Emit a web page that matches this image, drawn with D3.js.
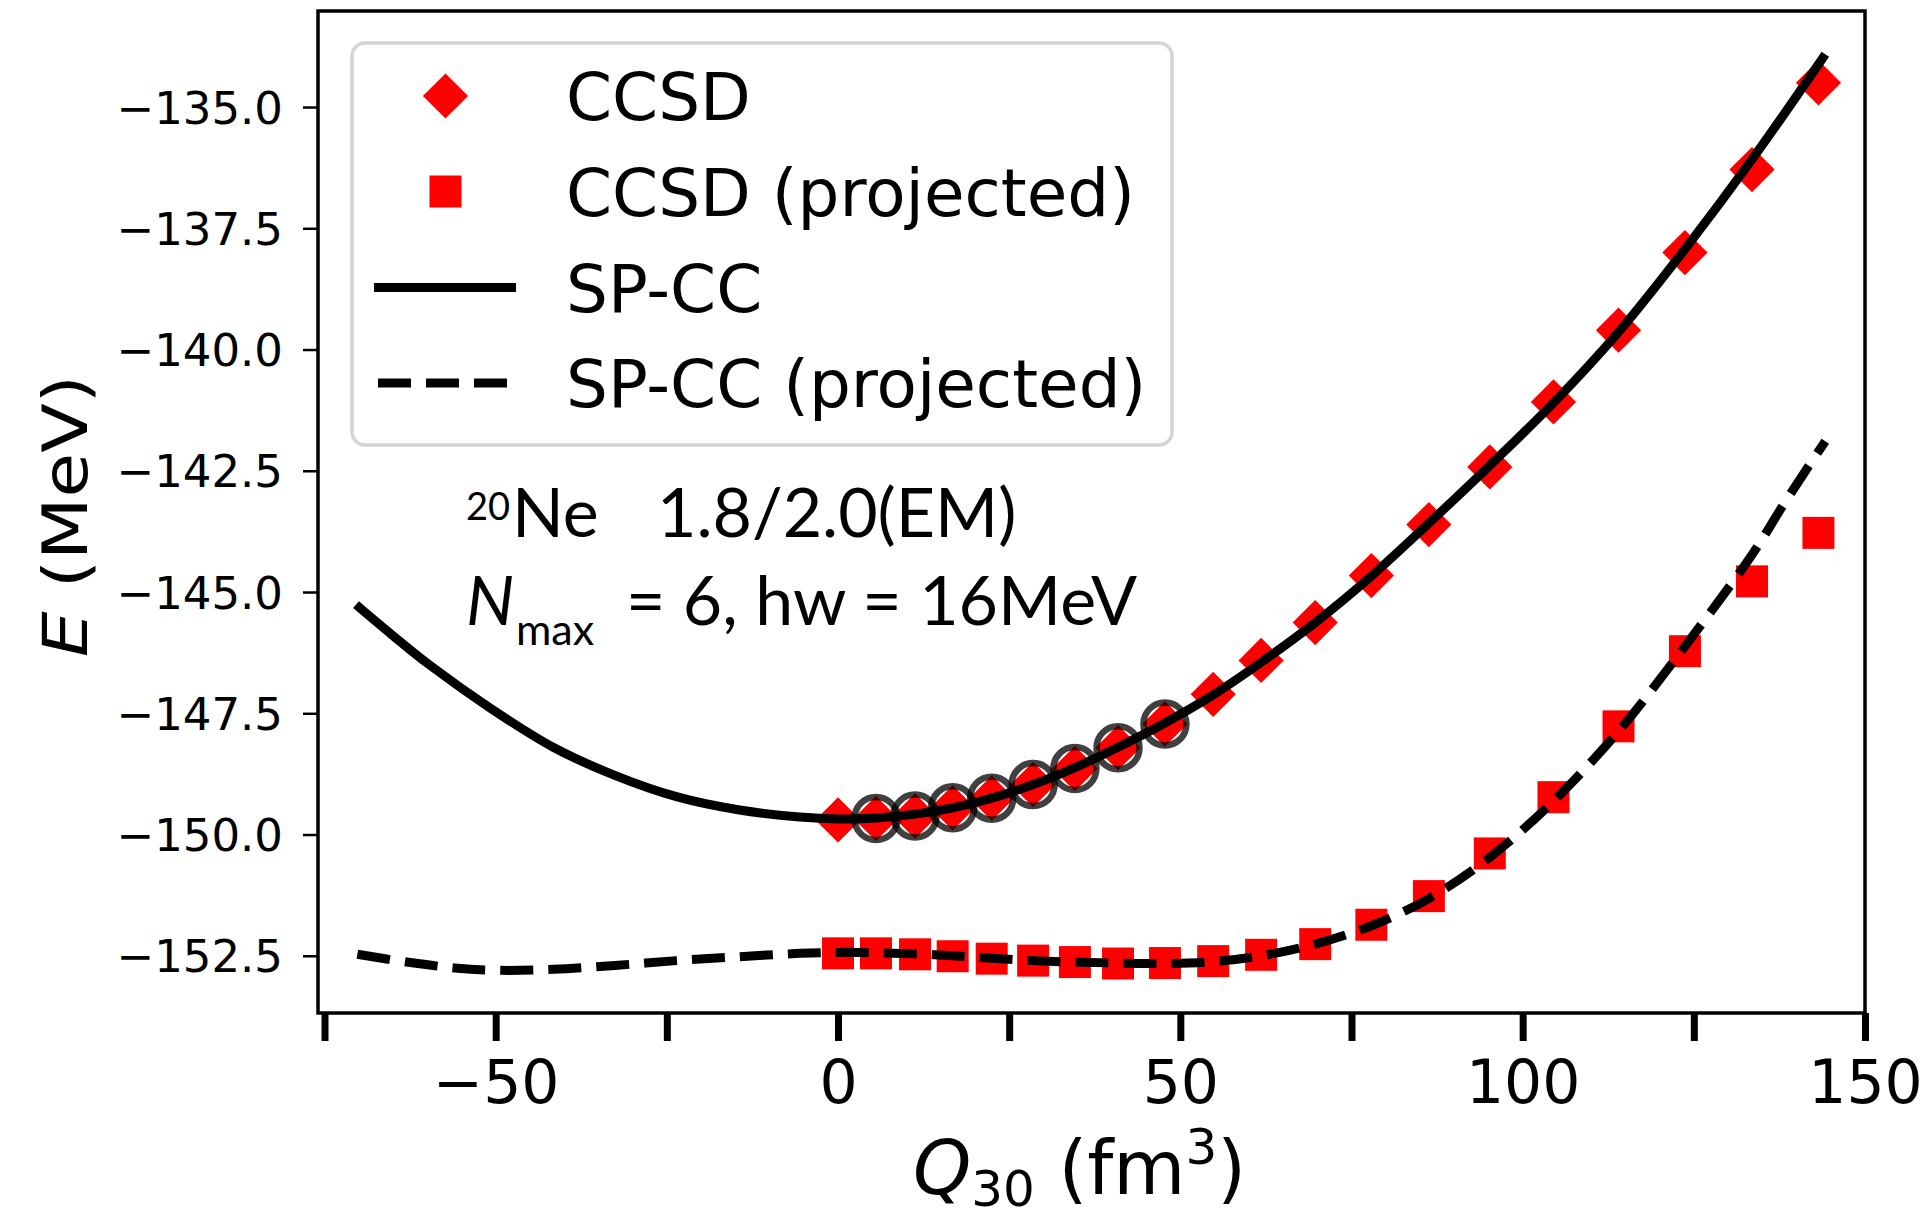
<!DOCTYPE html>
<html>
<head>
<meta charset="utf-8">
<script src="https://cdn.jsdelivr.net/npm/d3@7"></script>
<style>
  html, body { margin: 0; padding: 0; background: #fff; }
  svg { display: block; }
</style>
</head>
<body>
<svg id="chart" width="1929" height="1217"></svg>
<script>
// Deformation coordinate Q30 (fm^3) of the computed states
const q30 = [0, 5.55, 11.25, 16.75, 22.45, 28.5, 34.6, 40.9, 47.75, 54.8,
             61.8, 69.7, 77.9, 86.3, 95.2, 104.5, 114.0, 123.7, 133.5, 143.2];
// CCSD energies (MeV)
const ccsdE = [-149.70, -149.67, -149.62, -149.45, -149.25, -148.97, -148.64, -148.21, -147.72, -147.11,
               -146.41, -145.63, -144.66, -143.61, -142.42, -141.08, -139.60, -138.00, -136.29, -134.50];
// Projected CCSD energies (MeV)
const ccsdProjE = [-152.45, -152.45, -152.47, -152.51, -152.56, -152.60, -152.63, -152.66, -152.65, -152.61,
                   -152.48, -152.26, -151.86, -151.27, -150.39, -149.23, -147.77, -146.22, -144.78, -143.78];
// States used as training points for the emulator (circled)
const trainingIdx = [1, 2, 3, 4, 5, 6, 7, 8];

// SP-CC curve
const spccQ = [-70.4, -65, -59.6, -50.5, -41.6, -32.6, -23.6, -14.6, -5.6, 0, 5.55, 11.25, 16.75, 22.45,
               28.5, 34.6, 40.9, 47.75, 54.8, 61.8, 69.7, 77.9, 86.3, 95.2, 104.5, 114.0, 123.7, 133.5, 143.2, 144.2];
const spccE = [-145.26, -145.9, -146.51, -147.42, -148.2, -148.78, -149.22, -149.49, -149.64, -149.68,
               -149.66, -149.58, -149.45, -149.25, -148.97, -148.62, -148.2, -147.7, -147.12, -146.45,
               -145.63, -144.67, -143.58, -142.39, -141.1, -139.64, -137.93, -136.08, -134.12, -133.91];
// Projected SP-CC curve
const spccProjQ = [-70.2, -63, -56, -49.7, -41.6, -32.6, -23.6, -14.6, -5.6, 0, 5.55, 11.25, 16.75, 22.45,
                   28.5, 34.6, 40.9, 47.75, 54.8, 61.8, 69.7, 77.9, 86.3, 95.2, 104.5, 114.0, 123.7, 133.5, 138.4, 144.2];
const spccProjE = [-152.47, -152.63, -152.75, -152.8, -152.78, -152.7, -152.6, -152.52, -152.45, -152.43,
                   -152.44, -152.46, -152.5, -152.55, -152.6, -152.63, -152.65, -152.66, -152.62, -152.5,
                   -152.26, -151.88, -151.32, -150.47, -149.31, -147.87, -146.12, -144.23, -143.13, -141.89];

const xTicks = [-75, -50, -25, 0, 25, 50, 75, 100, 125, 150];
const xLabeled = [-50, 0, 50, 100, 150];
const yTicks = [-152.5, -150.0, -147.5, -145.0, -142.5, -140.0, -137.5, -135.0];

const legendItems = ["CCSD", "CCSD (projected)", "SP-CC", "SP-CC (projected)"];

const RED = "#ff0000";
const SANS = "'DejaVu Sans', sans-serif";
const NOTE = "Lato, 'Open Sans', sans-serif";

const plot = { left: 318, right: 1865, top: 11, bottom: 1013 };

const svg = d3.select("#chart");

const x = d3.scaleLinear().domain([-75.95, 150]).range([plot.left, plot.right]);
const y = d3.scaleLinear().domain([-153.68, -133.02]).range([plot.bottom, plot.top]);

// ---- axes ----
const fmt = d3.format(".1f");
const xAxis = d3.axisBottom(x)
  .tickValues(xTicks)
  .tickSizeInner(28).tickSizeOuter(0)
  .tickFormat(d => xLabeled.includes(d) ? d3.format("d")(d) : "");
const gx = svg.append("g").attr("transform", `translate(0,${plot.bottom})`).call(xAxis);
gx.select(".domain").remove();
gx.selectAll(".tick line").attr("stroke", "#000").attr("stroke-width", 7);
gx.selectAll(".tick text")
  .attr("y", 90).attr("dy", null)
  .attr("fill", "#000")
  .style("font-family", SANS).style("font-size", "60px");

const yAxis = d3.axisLeft(y)
  .tickValues(yTicks)
  .tickSizeInner(15).tickSizeOuter(0)
  .tickFormat(d => fmt(d));
const gy = svg.append("g").attr("transform", `translate(${plot.left},0)`).call(yAxis);
gy.select(".domain").remove();
gy.selectAll(".tick line").attr("stroke", "#000").attr("stroke-width", 2.5);
gy.selectAll(".tick text")
  .attr("x", -35).attr("dy", "0.36em")
  .attr("fill", "#000")
  .style("font-family", SANS).style("font-size", "45px");

// frame
svg.append("rect")
  .attr("x", plot.left).attr("y", plot.top)
  .attr("width", plot.right - plot.left).attr("height", plot.bottom - plot.top)
  .attr("fill", "none").attr("stroke", "#000").attr("stroke-width", 3.5);

// ---- markers ----
const pts = q30.map((q, i) => ({ q, e: ccsdE[i], p: ccsdProjE[i] }));
const SQ = 32, DH = 22.6;
const diamondPath = `M0,${-DH}L${DH},0L0,${DH}L${-DH},0Z`;

const gm = svg.append("g");
gm.selectAll("rect.sq").data(pts).join("rect").attr("class", "sq")
  .attr("x", d => x(d.q) - SQ / 2).attr("y", d => y(d.p) - SQ / 2)
  .attr("width", SQ).attr("height", SQ).attr("fill", RED);
gm.selectAll("path.dm").data(pts).join("path").attr("class", "dm")
  .attr("d", diamondPath)
  .attr("transform", d => `translate(${x(d.q)},${y(d.e)})`)
  .attr("fill", RED);

// ---- curves ----
const line = d3.line().x(d => x(d[0])).y(d => y(d[1])).curve(d3.curveCatmullRom.alpha(0.5));
const spcc = spccQ.map((q, i) => [q, spccE[i]]);
const spccProj = spccProjQ.map((q, i) => [q, spccProjE[i]]);

svg.append("path").datum(spccProj).attr("d", line)
  .attr("fill", "none").attr("stroke", "#000").attr("stroke-width", 9)
  .attr("stroke-dasharray", "33,15");
svg.append("path").datum(spcc).attr("d", line)
  .attr("fill", "none").attr("stroke", "#000").attr("stroke-width", 9);

// training points
svg.append("g").selectAll("circle").data(trainingIdx.map(i => pts[i])).join("circle")
  .attr("cx", d => x(d.q)).attr("cy", d => y(d.e)).attr("r", 21.5)
  .attr("fill", "none").attr("stroke", "#000").attr("stroke-opacity", 0.75).attr("stroke-width", 6.5);

// ---- legend ----
const lg = svg.append("g");
lg.append("rect").attr("x", 352).attr("y", 43).attr("width", 820).attr("height", 402)
  .attr("rx", 13).attr("fill", "#fff").attr("stroke", "#d4d4d4").attr("stroke-width", 3.5);
const rowY = [96, 191.5, 287.5, 383];
const hx = 445.5;
lg.append("path").attr("d", diamondPath).attr("transform", `translate(${hx},${rowY[0]})`).attr("fill", RED);
lg.append("rect").attr("x", hx - SQ / 2).attr("y", rowY[1] - SQ / 2).attr("width", SQ).attr("height", SQ).attr("fill", RED);
lg.append("line").attr("x1", 374).attr("x2", 516).attr("y1", rowY[2]).attr("y2", rowY[2])
  .attr("stroke", "#000").attr("stroke-width", 9);
lg.append("line").attr("x1", 378).attr("x2", 512).attr("y1", rowY[3]).attr("y2", rowY[3])
  .attr("stroke", "#000").attr("stroke-width", 9).attr("stroke-dasharray", "33,15");
lg.selectAll("text").data(legendItems).join("text")
  .attr("x", 566).attr("y", (d, i) => rowY[i] + 24)
  .style("font-family", SANS).style("font-size", "66px").attr("fill", "#000")
  .text(d => d);

// ---- axis titles ----
const yl = svg.append("text")
  .attr("transform", "translate(86.7,516) rotate(-90) scale(1.17,1)")
  .attr("text-anchor", "middle")
  .style("font-family", SANS).style("font-size", "62px").attr("fill", "#000");
yl.append("tspan").style("font-style", "italic").text("E");
yl.append("tspan").text(" (MeV)");

const xl = svg.append("text").attr("x", 913).attr("y", 1194)
  .style("font-family", SANS).style("font-size", "74px").attr("fill", "#000");
xl.append("tspan").style("font-style", "italic").text("Q");
xl.append("tspan").attr("dy", 12).style("font-size", "50px").text("30");
xl.append("tspan").attr("dy", -12).text(" (fm");
xl.append("tspan").attr("dy", -30).style("font-size", "50px").text("3");
xl.append("tspan").attr("dy", 30).text(")");

// ---- annotation ----
const note = svg.append("g").style("font-family", NOTE).attr("fill", "#000");
note.append("text").attr("x", 466).attr("y", 520).style("font-size", "38px").text("20");
note.append("text").attr("x", 512).attr("y", 537).style("font-size", "68px").text("Ne");
note.append("text").attr("x", 657).attr("y", 537).style("font-size", "68px").text("1.8/2.0(EM)");
note.append("text").attr("x", 466).attr("y", 625).style("font-size", "68px").style("font-style", "italic").text("N");
note.append("text").attr("x", 516).attr("y", 645).style("font-size", "43px").text("max");
note.append("text").attr("x", 626).attr("y", 625).style("font-size", "68px").text("= 6, hw = 16MeV");
</script>
</body>
</html>
